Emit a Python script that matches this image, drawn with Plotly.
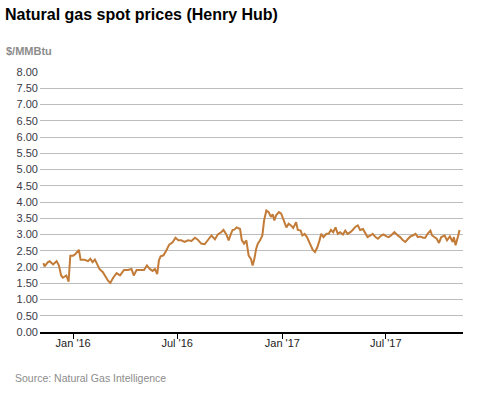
import plotly.graph_objects as go

dates = [
    "2015-11-10", "2015-11-12", "2015-11-18", "2015-11-21", "2015-11-27", "2015-12-03",
    "2015-12-07", "2015-12-11", "2015-12-14", "2015-12-20", "2015-12-23", "2015-12-24",
    "2015-12-27", "2016-01-01", "2016-01-05", "2016-01-11", "2016-01-14", "2016-01-21",
    "2016-01-27", "2016-01-31", "2016-02-04", "2016-02-08", "2016-02-12", "2016-02-16",
    "2016-02-22", "2016-02-27", "2016-03-02", "2016-03-06", "2016-03-11", "2016-03-17",
    "2016-03-23", "2016-03-30", "2016-04-06", "2016-04-12", "2016-04-16", "2016-04-21",
    "2016-04-27", "2016-05-04", "2016-05-09", "2016-05-14", "2016-05-19", "2016-05-23",
    "2016-05-27", "2016-05-30", "2016-06-02", "2016-06-07", "2016-06-12", "2016-06-17",
    "2016-06-23", "2016-06-28", "2016-07-03", "2016-07-08", "2016-07-14", "2016-07-20",
    "2016-07-26", "2016-08-01", "2016-08-06", "2016-08-12", "2016-08-18", "2016-08-24",
    "2016-08-30", "2016-09-05", "2016-09-10", "2016-09-16", "2016-09-20", "2016-09-25",
    "2016-09-29", "2016-10-03", "2016-10-06", "2016-10-09", "2016-10-13", "2016-10-19",
    "2016-10-22", "2016-10-26", "2016-10-30", "2016-11-03", "2016-11-07", "2016-11-10",
    "2016-11-13", "2016-11-16", "2016-11-19", "2016-11-23", "2016-11-27", "2016-11-30",
    "2016-12-04", "2016-12-08", "2016-12-12", "2016-12-15", "2016-12-18", "2016-12-21",
    "2016-12-26", "2016-12-30", "2017-01-03", "2017-01-08", "2017-01-12", "2017-01-16",
    "2017-01-20", "2017-01-25", "2017-01-28", "2017-02-02", "2017-02-05", "2017-02-09",
    "2017-02-13", "2017-02-18", "2017-02-23", "2017-02-27", "2017-03-03", "2017-03-07",
    "2017-03-10", "2017-03-14", "2017-03-19", "2017-03-23", "2017-03-27", "2017-03-31",
    "2017-04-04", "2017-04-08", "2017-04-12", "2017-04-17", "2017-04-21", "2017-04-25",
    "2017-04-30", "2017-05-04", "2017-05-09", "2017-05-13", "2017-05-17", "2017-05-22",
    "2017-05-26", "2017-05-30", "2017-06-04", "2017-06-08", "2017-06-13", "2017-06-17",
    "2017-06-23", "2017-06-27", "2017-07-02", "2017-07-06", "2017-07-10", "2017-07-16",
    "2017-07-22", "2017-07-26", "2017-07-31", "2017-08-04", "2017-08-09", "2017-08-13",
    "2017-08-17", "2017-08-22", "2017-08-26", "2017-08-30", "2017-09-04", "2017-09-08",
    "2017-09-12", "2017-09-17", "2017-09-20", "2017-09-24", "2017-09-28", "2017-10-02",
    "2017-10-06", "2017-10-12", "2017-10-16", "2017-10-21", "2017-10-26", "2017-10-28",
    "2017-10-31", "2017-11-04", "2017-11-07",
]

prices = [
    2.12, 2.02, 2.15, 2.18, 2.08, 2.18,
    2.05, 1.74, 1.67, 1.74, 1.60, 1.55,
    2.35, 2.35, 2.40, 2.53, 2.22, 2.22,
    2.18, 2.25, 2.15, 2.23, 2.09, 1.94,
    1.84, 1.69, 1.58, 1.51, 1.67, 1.81,
    1.74, 1.91, 1.91, 1.94, 1.74, 1.91,
    1.91, 1.91, 2.05, 1.94, 1.88, 1.94,
    1.78, 2.20, 2.33, 2.36, 2.51, 2.69,
    2.76, 2.90, 2.82, 2.82, 2.77, 2.82,
    2.80, 2.90, 2.84, 2.72, 2.70, 2.82,
    2.97, 2.85, 3.00, 3.07, 3.14, 3.00,
    2.82, 3.02, 3.14, 3.15, 3.22, 3.17,
    2.83, 2.72, 2.82, 2.35, 2.25, 2.05,
    2.25, 2.55, 2.72, 2.82, 2.97, 3.43,
    3.74, 3.69, 3.54, 3.62, 3.43, 3.59,
    3.69, 3.64, 3.43, 3.22, 3.33, 3.28,
    3.20, 3.38, 3.14, 3.12, 2.97, 3.02,
    2.92, 2.72, 2.53, 2.46, 2.60, 2.82,
    3.02, 2.92, 3.02, 3.02, 3.14, 3.07,
    3.22, 3.02, 3.07, 3.00, 3.12, 3.02,
    3.07, 3.14, 3.24, 3.28, 3.14, 3.17,
    3.02, 2.92, 2.97, 3.02, 2.92, 2.87,
    2.97, 3.00, 2.94, 2.92, 2.97, 3.07,
    2.97, 2.92, 2.82, 2.77, 2.87, 2.94,
    2.97, 3.02, 2.92, 2.94, 2.90, 2.90,
    3.02, 3.12, 2.97, 2.92, 2.87, 2.74,
    2.92, 2.97, 2.82, 2.94, 2.77, 2.92,
    2.67, 2.92, 3.14,
]

x_tick_vals = ["2016-01-01", "2016-07-01", "2017-01-01", "2017-07-01"]
x_tick_text = ["Jan '16", "Jul '16", "Jan '17", "Jul '17"]
y_tick_vals = [i * 0.5 for i in range(17)]

FONT = "Arial, Liberation Sans, sans-serif"

fig = go.Figure()
fig.add_trace(go.Scatter(
    x=dates, y=prices, mode="lines",
    line=dict(color="#c27c38", width=2),
    hoverinfo="x+y",
))

fig.update_layout(
    width=477, height=393,
    margin=dict(l=40, r=14, t=72, b=61),
    plot_bgcolor="white", paper_bgcolor="white",
    showlegend=False,
    font=dict(family=FONT, size=11, color="#333"),
    xaxis=dict(
        range=["2015-11-04", "2017-11-13"],
        tickvals=x_tick_vals, ticktext=x_tick_text,
        showgrid=False, showline=True, linecolor="#000", linewidth=1.5,
        ticks="outside", ticklen=5, tickcolor="#000", tickwidth=1,
        ticklabelstandoff=-5,
        tickfont=dict(size=11, color="#222"),
        zeroline=False,
    ),
    yaxis=dict(
        range=[0, 8], tickvals=y_tick_vals, tickformat=".2f",
        showgrid=True, gridcolor="#bdbdbd", gridwidth=1,
        zeroline=False, showline=False, ticks="",
        ticklabelstandoff=1,
        tickfont=dict(size=11, color="#3a3a48"),
    ),
    annotations=[
        dict(text="<b>Natural gas spot prices (Henry Hub)</b>", xref="paper", yref="paper",
             x=0, y=1, xanchor="left", yanchor="bottom", xshift=-36, yshift=48,
             borderpad=0, showarrow=False, font=dict(family=FONT, size=16, color="#000")),
        dict(text="<b>$/MMBtu</b>", xref="paper", yref="paper",
             x=0, y=1, xanchor="left", yanchor="bottom", xshift=-36, yshift=13,
             showarrow=False, font=dict(family=FONT, size=11, color="#8c8c8c")),
        dict(text="Source: Natural Gas Intelligence", xref="paper", yref="paper",
             x=0, y=0, xanchor="left", yanchor="top", xshift=-27, yshift=-38,
             showarrow=False, font=dict(family=FONT, size=10.5, color="#8c8c8c")),
    ],
)

fig.write_html("out.html", config={"displayModeBar": False},
               post_script="document.body.style.margin='0';")
